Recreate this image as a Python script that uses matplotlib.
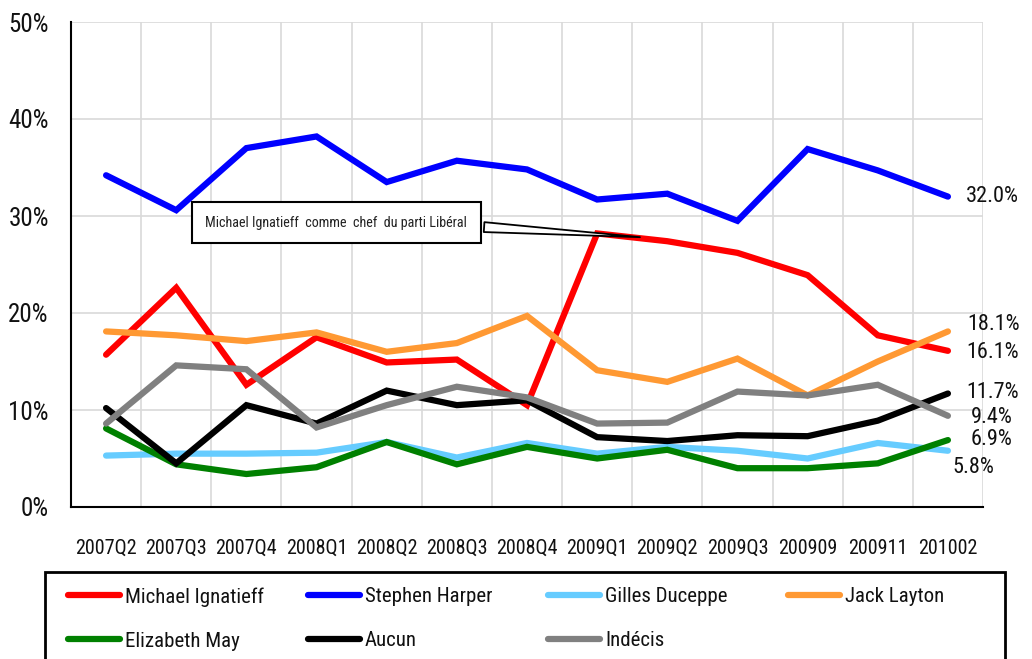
import matplotlib
matplotlib.use("Agg")
import matplotlib.pyplot as plt
from matplotlib import font_manager
from matplotlib.patches import Rectangle

avail = {f.name for f in font_manager.fontManager.ttflist}
cands = ['Liberation Sans Narrow', 'DejaVu Sans Condensed', 'Roboto Condensed', 'Open Sans Condensed']
fam = [c for c in cands if c in avail] + ['DejaVu Sans']
plt.rcParams['font.family'] = fam

categories = ["2007Q2", "2007Q3", "2007Q4", "2008Q1", "2008Q2", "2008Q3", "2008Q4",
              "2009Q1", "2009Q2", "2009Q3", "200909", "200911", "201002"]

ignatieff = [15.7, 22.6, 12.6, 17.5, 14.9, 15.2, 10.5, 28.2, 27.4, 26.2, 23.9, 17.7, 16.1]
harper    = [34.2, 30.6, 37.0, 38.2, 33.5, 35.7, 34.8, 31.7, 32.3, 29.5, 36.9, 34.7, 32.0]
duceppe   = [5.3, 5.5, 5.5, 5.6, 6.7, 5.1, 6.6, 5.5, 6.2, 5.8, 5.0, 6.6, 5.8]
layton    = [18.1, 17.7, 17.1, 18.0, 16.0, 16.9, 19.7, 14.1, 12.9, 15.3, 11.5, 15.0, 18.1]
may       = [8.1, 4.4, 3.4, 4.1, 6.7, 4.4, 6.2, 5.0, 5.9, 4.0, 4.0, 4.5, 6.9]
aucun     = [10.2, 4.5, 10.5, 8.6, 12.0, 10.5, 11.0, 7.2, 6.8, 7.4, 7.3, 8.9, 11.7]
indecis   = [8.6, 14.6, 14.2, 8.2, 10.5, 12.4, 11.3, 8.6, 8.7, 11.9, 11.5, 12.6, 9.4]

series_names = ["Michael Ignatieff", "Stephen Harper", "Gilles Duceppe", "Jack Layton",
                "Elizabeth May", "Aucun", "Indécis"]
series_values = [ignatieff, harper, duceppe, layton, may, aucun, indecis]
series_colors = ["#ff0000", "#0000ff", "#66ccff", "#ff9933", "#008000", "#000000", "#808080"]

# end-label offsets in pixels (dx right, dy down) per series
label_offsets = [(18, 2), (18, 0), (5, 17), (19, -7), (23, -1), (18, -1), (23, 2)]

annotation_text = "Michael Ignatieff  comme  chef  du parti Libéral"

fig = plt.figure(figsize=(10.32, 6.59), dpi=100)
ax = fig.add_axes([71/1032, 1-507/659, (983-71)/1032, (507-22)/659])

x = list(range(len(categories)))
handles = []
for name, vals, col in zip(series_names, series_values, series_colors):
    h, = ax.plot(x, vals, color=col, lw=4.5, solid_capstyle='round',
                 solid_joinstyle='miter', label=name, zorder=3)
    handles.append(h)

for vals, col, (dx, dy) in zip(series_values, series_colors, label_offsets):
    ax.annotate(f"{vals[-1]:.1f}%", xy=(x[-1], vals[-1]), xytext=(dx*0.72, -dy*0.72),
                textcoords='offset points', ha='left', va='center', fontsize=16,
                color='#111111', annotation_clip=False)

ax.set_xlim(-0.5, len(categories) - 0.5)
ax.set_ylim(0, 50)
ax.set_yticks([0, 10, 20, 30, 40, 50])
ax.set_yticklabels([f"{v}%" for v in [0, 10, 20, 30, 40, 50]])
ax.set_xticks(x)
ax.set_xticklabels(categories)
ax.set_xticks([i + 0.5 for i in x], minor=True)
ax.tick_params(axis='both', which='both', length=0, labelsize=14.5, colors='#111111')
ax.tick_params(axis='y', labelsize=18, pad=16)
ax.tick_params(axis='x', pad=23)
ax.grid(True, which='major', axis='y', color='#d9d9d9', lw=1.2, zorder=0)
ax.grid(True, which='minor', axis='x', color='#d9d9d9', lw=1.2, zorder=0)
for s in ['top', 'right']:
    ax.spines[s].set_visible(False)
for s in ['left', 'bottom']:
    ax.spines[s].set_color('black')
    ax.spines[s].set_linewidth(1.5)
    ax.spines[s].set_zorder(4)

ax.annotate(annotation_text, xy=(7.65, 27.8), xytext=(3.28, 29.3),
            textcoords='data', ha='center', va='center', fontsize=10.2, color='#222222',
            bbox=dict(boxstyle='square,pad=0.95', fc='white', ec='black', lw=1.5),
            arrowprops=dict(arrowstyle='wedge,tail_width=0.7,shrink_factor=0.5',
                            fc='white', ec='black', lw=1.3, relpos=(1.0, 0.27)),
            zorder=5)

# legend frame
fig.patches.append(Rectangle((45/1032, -0.1), (1005-45)/1032, 1-572/659+0.1,
                             transform=fig.transFigure, fill=False, ec='black', lw=2,
                             zorder=10))
# legend laid out row by row in 4 equally spaced columns
col_x = [68, 308, 548, 788]
ncols = 4
for c in range(ncols):
    idx = list(range(c, len(series_names), ncols))
    hs = [handles[i] for i in idx]
    ls = [series_names[i] for i in idx]
    yc = 619 if len(idx) == 2 else 596.5
    leg = fig.legend(handles=hs, labels=ls, loc='center left',
                     bbox_to_anchor=(col_x[c]/1032, 1-yc/659),
                     bbox_transform=fig.transFigure, fontsize=15, frameon=False,
                     handlelength=2.5, handletextpad=0.24, borderpad=0,
                     labelspacing=1.2, borderaxespad=0)
    for t in leg.get_texts():
        t.set_color('#111111')

fig.savefig("out.png", dpi=100)
